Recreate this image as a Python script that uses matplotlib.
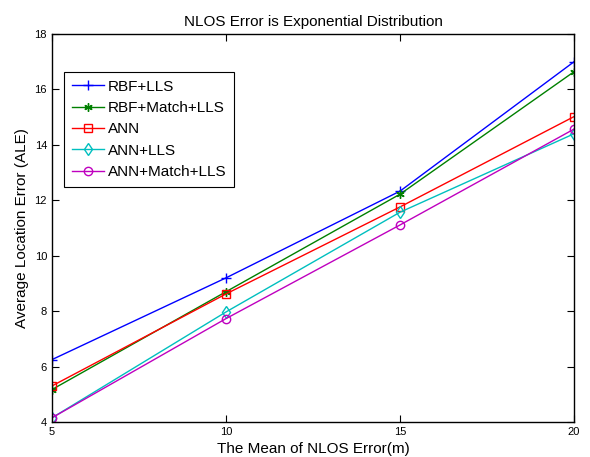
import matplotlib
matplotlib.use("Agg")
import matplotlib.pyplot as plt

plt.rcParams['font.family'] = ['Liberation Sans', 'DejaVu Sans']

nlos_mean = [5, 10, 15, 20]
rbf_lls = [6.25, 9.2, 12.33, 17.0]
rbf_match_lls = [5.17, 8.7, 12.22, 16.64]
ann = [5.3, 8.62, 11.76, 15.02]
ann_lls = [4.15, 7.97, 11.57, 14.4]
ann_match_lls = [4.15, 7.73, 11.11, 14.57]

fig = plt.figure(figsize=(5.9, 4.57), dpi=100)
ax = fig.add_axes([0.088, 0.0766, 0.885, 0.849])

ax.plot(nlos_mean, rbf_lls, color='#0000ff', marker='+', ms=7, lw=1, label='RBF+LLS')
ax.plot(nlos_mean, rbf_match_lls, color='#008000', marker=(6, 2, 0), ms=6, lw=1, label='RBF+Match+LLS')
ax.plot(nlos_mean, ann, color='#ff0000', marker='s', ms=6, mfc='none', lw=1, label='ANN')
ax.plot(nlos_mean, ann_lls, color='#00bfbf', marker='d', ms=6, mfc='none', lw=1, label='ANN+LLS')
ax.plot(nlos_mean, ann_match_lls, color='#bf00bf', marker='o', ms=6, mfc='none', lw=1, label='ANN+Match+LLS')

ax.set_xlim(5, 20)
ax.set_ylim(4, 18)
ax.set_xticks(nlos_mean)
ax.set_yticks(range(4, 19, 2))
ax.tick_params(direction='in', top=True, right=True, labelsize=8, length=5)
for s in ax.spines.values():
    s.set_linewidth(1)

ax.set_xlabel('The Mean of NLOS Error(m)', fontsize=11)
ax.set_ylabel('Average Location Error (ALE)', fontsize=11)
ax.set_title('NLOS Error is Exponential Distribution', fontsize=11)

leg = ax.legend(loc='upper left', bbox_to_anchor=(0.023, 0.902), fontsize=11,
                fancybox=False, edgecolor='black', framealpha=1,
                handlelength=2.1, handletextpad=0.3, borderpad=0.5,
                labelspacing=0.48, borderaxespad=0)
leg.get_frame().set_linewidth(0.8)

fig.savefig('out.png', dpi=100)
